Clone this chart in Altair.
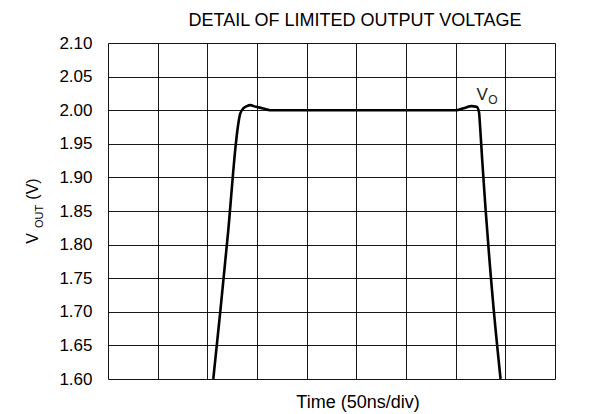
import altair as alt
import pandas as pd

# Waveform (time in ns, output in V)
time_ns = [106, 113, 121, 128.7, 130.7, 133.1, 136.5, 139.8, 143.1, 149, 155.2, 163.3,
           250, 350.8, 358, 365.9, 371, 373.5, 374.5, 376.7, 387.4, 395.2]
vout = [1.60, 1.70, 1.82, 1.95, 1.975, 1.995, 2.003, 2.006, 2.0075, 2.005, 2.003, 2.000,
        2.000, 2.000, 2.003, 2.006, 2.005, 1.997, 1.978, 1.926, 1.718, 1.60]

x_ticks = [0, 50, 100, 150, 200, 250, 300, 350, 400, 450]
y_ticks = [1.60, 1.65, 1.70, 1.75, 1.80, 1.85, 1.90, 1.95, 2.00, 2.05, 2.10]

title_text = "DETAIL OF LIMITED OUTPUT VOLTAGE"
x_title = "Time (50ns/div)"
label_main = ["V"]
label_sub = ["O"]
label_x = [376.8]
label_y = [2.0152]
label_sub_x = [387.6]
label_sub_y = [2.0088]

FONT = "Liberation Sans"

df = pd.DataFrame({"t": time_ns, "v": vout})

xs = alt.Scale(domain=[0, 450], nice=False, zero=False)
ys = alt.Scale(domain=[1.60, 2.10], nice=False, zero=False)

line = alt.Chart(df).mark_line(
    color="black", strokeWidth=2.6, interpolate="monotone", clip=True
).encode(
    x=alt.X("t:Q", scale=xs, axis=alt.Axis(
        values=x_ticks, tickCount=len(x_ticks), labels=False, ticks=False,
        domain=False, title=None,
        grid=True, gridColor="black", gridWidth=1, gridOpacity=0.9)),
    y=alt.Y("v:Q", scale=ys, axis=alt.Axis(
        values=y_ticks, tickCount=len(y_ticks), format=".2f", ticks=False,
        domain=False, title=None,
        labelOverlap=False, labelFlush=False,
        labelFont=FONT, labelFontSize=17, labelColor="black", labelPadding=16,
        grid=True, gridColor="black", gridWidth=1, gridOpacity=0.9)),
)

vo_main = alt.Chart(pd.DataFrame({"t": label_x, "v": label_y, "s": label_main})).mark_text(
    font=FONT, fontSize=17, color="#222", align="center", baseline="alphabetic"
).encode(x=alt.X("t:Q", scale=xs), y=alt.Y("v:Q", scale=ys), text="s:N")

vo_sub = alt.Chart(pd.DataFrame({"t": label_sub_x, "v": label_sub_y, "s": label_sub})).mark_text(
    font=FONT, fontSize=12, color="#222", align="center", baseline="alphabetic"
).encode(x=alt.X("t:Q", scale=xs), y=alt.Y("v:Q", scale=ys), text="s:N")

def txt(s, x, y, size, angle=0):
    return alt.Chart(pd.DataFrame({"s": [s]})).mark_text(
        font=FONT, fontSize=size, color="black", align="center",
        baseline="alphabetic", angle=angle
    ).encode(x=alt.value(x), y=alt.value(y), text="s:N")

title = txt(title_text, 247, -17, 18)
xtitle = txt(x_title, 250, 365, 18)
yt_v = txt("V", -70, 195.5, 16, 270)
yt_out = txt("OUT", -65, 173.5, 11, 270)
yt_unit = txt("(V)", -70, 146, 16, 270)

chart = alt.layer(line, vo_main, vo_sub, title, xtitle, yt_v, yt_out, yt_unit).properties(
    width=447, height=336,
    autosize=alt.AutoSizeParams(type="none"),
    padding={"left": 100, "top": 35, "right": 40, "bottom": 33},
).configure_view(stroke="black", strokeWidth=2.2).configure(background="white")

chart.save("out.html", embed_options={"renderer": "svg", "actions": False})
